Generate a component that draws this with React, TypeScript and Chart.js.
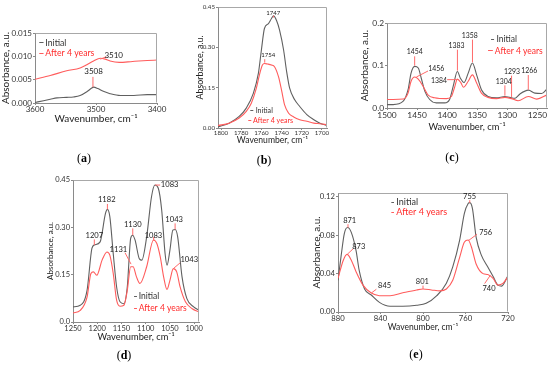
import React, { useEffect, useRef } from "react";
import { Chart, registerables } from "chart.js";

Chart.register(...registerables);

const W = 550;
const H = 365;
const FONT = "Lato, 'Open Sans', sans-serif";
const GRAY = "#606060";
const RED = "#ff5c5c";
const RED_TEXT = "#ff2b2b";
const LEADER = "#ff6a6a";
const AXIS = "#8a8a8a";
const FRAME = "#a8a8a8";
const X_TITLE = "Wavenumber, cm\u207B\u00B9";
const Y_TITLE = "Absorbance, a.u.";
const LEGEND_LABELS = ["Initial", "After 4 years"];

// ---------- Panel (a) ----------
const A_X_TICKS = [3400, 3500, 3600];
const A_Y_TICKS = [0, 0.005, 0.01, 0.015];
const A_Y_LABELS = ["0.000", "0.005", "0.010", "0.015"];
const A_INIT_WN = [3600, 3586, 3575, 3564, 3548, 3537, 3526, 3515, 3507, 3504, 3497, 3488, 3477, 3460, 3438, 3416, 3400];
const A_INIT_ABS = [0.0001, 0.0005, 0.0008, 0.0011, 0.0012, 0.0013, 0.0016, 0.0024, 0.0032, 0.0034, 0.0031, 0.0025, 0.002, 0.0016, 0.0016, 0.0018, 0.0018];
const A_AFTER_WN = [3600, 3575, 3548, 3526, 3515, 3504, 3493, 3485, 3477, 3462, 3440, 3416, 3400];
const A_AFTER_ABS = [0.0051, 0.0059, 0.0069, 0.0075, 0.0082, 0.009, 0.0096, 0.0094, 0.009, 0.0087, 0.0089, 0.0091, 0.0092];
const A_NOTES = [
  { text: "3508", tx: 3504, ty: 0.0068, line: [3505, 0.0034, 3505, 0.0056] },
  { text: "3510", tx: 3471, ty: 0.0101, line: [3493, 0.0094, 3483, 0.0099] },
];

// ---------- Panel (b) ----------
const B_X_TICKS = [1700, 1720, 1740, 1760, 1780, 1800];
const B_Y_TICKS = [0, 0.15, 0.3, 0.45];
const B_Y_LABELS = ["0.00", "0.15", "0.30", "0.45"];
const B_INIT_WN = [1803, 1792, 1782, 1775, 1768, 1763, 1760, 1757, 1753, 1750, 1748, 1745, 1742, 1738, 1735, 1732, 1727, 1722, 1715, 1708, 1702, 1695];
const B_INIT_ABS = [0.004, 0.018, 0.043, 0.074, 0.129, 0.203, 0.29, 0.37, 0.388, 0.407, 0.417, 0.4, 0.364, 0.29, 0.21, 0.148, 0.105, 0.08, 0.05, 0.031, 0.018, 0.009];
const B_AFTER_WN = [1803, 1792, 1782, 1775, 1770, 1765, 1762, 1759, 1757, 1754, 1750, 1747, 1743, 1740, 1737, 1733, 1728, 1722, 1715, 1708, 1702, 1695];
const B_AFTER_ABS = [0.009, 0.018, 0.037, 0.062, 0.092, 0.148, 0.197, 0.234, 0.24, 0.238, 0.234, 0.228, 0.19, 0.14, 0.086, 0.055, 0.041, 0.031, 0.025, 0.018, 0.016, 0.012];
const B_NOTES = [
  { text: "1747", tx: 1748.3, ty: 0.428, line: [1748, 0.411, 1748, 0.418] },
  { text: "1754", tx: 1753.3, ty: 0.272, line: [1756.7, 0.243, 1756.7, 0.256] },
];

// ---------- Panel (c) ----------
const C_X_TICKS = [1250, 1300, 1350, 1400, 1450, 1500];
const C_Y_TICKS = [0, 0.1, 0.2];
const C_Y_LABELS = ["0.0", "0.1", "0.2"];
const C_INIT_WN = [1500, 1490, 1473, 1465, 1460, 1454, 1448, 1443, 1437, 1429, 1418, 1404, 1396, 1390, 1383, 1378, 1372, 1365, 1358, 1351, 1343, 1332, 1318, 1304, 1296, 1287, 1279, 1265, 1254, 1243, 1234];
const C_INIT_ABS = [0.008, 0.008, 0.016, 0.043, 0.082, 0.098, 0.094, 0.07, 0.039, 0.02, 0.012, 0.012, 0.02, 0.051, 0.086, 0.07, 0.06, 0.082, 0.106, 0.078, 0.043, 0.027, 0.024, 0.027, 0.025, 0.023, 0.033, 0.042, 0.035, 0.034, 0.045];
const C_AFTER_WN = [1500, 1490, 1473, 1465, 1460, 1454, 1448, 1440, 1432, 1421, 1401, 1393, 1388, 1383, 1377, 1373, 1365, 1358, 1351, 1343, 1332, 1318, 1304, 1293, 1282, 1265, 1251, 1234];
const C_AFTER_ABS = [0.02, 0.02, 0.021, 0.035, 0.063, 0.073, 0.068, 0.051, 0.031, 0.024, 0.022, 0.027, 0.047, 0.068, 0.059, 0.049, 0.063, 0.078, 0.059, 0.035, 0.025, 0.022, 0.025, 0.022, 0.017, 0.027, 0.021, 0.031];
const C_NOTES = [
  { text: "1454", tx: 1454, ty: 0.1333, line: [1454, 0.0996, 1454, 0.1216] },
  { text: "1456", tx: 1418, ty: 0.0925, line: [1451.2, 0.0729, 1431.8, 0.0871] },
  { text: "1383", tx: 1384.6, ty: 0.1475, line: [1382.9, 0.0878, 1382.9, 0.1373] },
  { text: "1358", tx: 1362.3, ty: 0.171, line: [1357.9, 0.1075, 1357.9, 0.161] },
  { text: "1384", tx: 1413.4, ty: 0.0651, line: [1400, 0.0667, 1383.4, 0.0667] },
  { text: "1304", tx: 1306, ty: 0.0627, line: [1304, 0.0533, 1304, 0.029] },
  { text: "1293", tx: 1292, ty: 0.0863, line: [1292.9, 0.0761, 1292.9, 0.0259] },
  { text: "1266", tx: 1263.5, ty: 0.0878, line: [1265.1, 0.0776, 1265.1, 0.0431] },
];

// ---------- Panel (d) ----------
const D_X_TICKS = [1000, 1050, 1100, 1150, 1200, 1250];
const D_Y_TICKS = [0, 0.15, 0.3, 0.45];
const D_Y_LABELS = ["0.0", "0.15", "0.30", "0.45"];
const D_INIT_WN = [1250, 1235, 1221, 1211, 1206, 1194, 1183, 1179, 1174, 1167, 1160, 1153, 1145, 1138, 1131, 1127, 1122, 1113, 1108, 1098, 1088, 1081, 1074, 1067, 1060, 1056, 1050, 1044, 1039, 1034, 1025, 1015, 1001, 990];
const D_INIT_ABS = [0.048, 0.053, 0.1, 0.233, 0.244, 0.254, 0.344, 0.357, 0.334, 0.217, 0.111, 0.064, 0.058, 0.111, 0.265, 0.275, 0.26, 0.2, 0.196, 0.27, 0.397, 0.434, 0.424, 0.355, 0.217, 0.18, 0.228, 0.291, 0.293, 0.27, 0.143, 0.074, 0.048, 0.037];
const D_AFTER_WN = [1250, 1235, 1221, 1213, 1208, 1201, 1190, 1180, 1174, 1167, 1160, 1153, 1145, 1138, 1131, 1126, 1119, 1112, 1098, 1084, 1077, 1070, 1063, 1056, 1050, 1043, 1036, 1029, 1018, 1004, 990];
const D_AFTER_ABS = [0.029, 0.037, 0.079, 0.154, 0.159, 0.148, 0.196, 0.222, 0.212, 0.154, 0.069, 0.05, 0.053, 0.1, 0.175, 0.175, 0.143, 0.122, 0.175, 0.26, 0.249, 0.207, 0.143, 0.103, 0.132, 0.169, 0.159, 0.111, 0.064, 0.042, 0.032];
const D_NOTES = [
  { text: "1207", tx: 1206, ty: 0.2754, line: [1206, 0.2617, 1206, 0.2436] },
  { text: "1182", tx: 1180.4, ty: 0.3867, line: [1179, 0.374, 1179, 0.357] },
  { text: "1130", tx: 1126.7, ty: 0.3093, line: [1126.7, 0.2966, 1126.7, 0.2754] },
  { text: "1131", tx: 1156.3, ty: 0.2309, line: [1142.6, 0.2193, 1130.2, 0.1833] },
  { text: "1083", tx: 1050.6, ty: 0.4343, line: [1080.6, 0.434, 1070.2, 0.434] },
  { text: "1083", tx: 1084, ty: 0.2754, line: [1083.5, 0.2695, 1083.5, 0.2575] },
  { text: "1043", tx: 1041.3, ty: 0.3252, line: [1039.3, 0.3125, 1039.3, 0.2934] },
  { text: "1043", tx: 1010.1, ty: 0.198, line: [1028.9, 0.1875, 1042.7, 0.1695] },
];

// ---------- Panel (e) ----------
const E_X_TICKS = [720, 760, 800, 840, 880];
const E_Y_TICKS = [0, 0.04, 0.08, 0.12];
const E_Y_LABELS = ["0.00", "0.04", "0.08", "0.12"];
const E_INIT_WN = [880, 877, 874, 871, 867.5, 863, 860, 855, 849, 841, 831, 819, 806, 797, 787, 778, 772, 765.5, 761, 757.5, 756, 753.5, 750, 745, 739, 734, 729.5, 726, 720];
const E_INIT_ABS = [0.033, 0.059, 0.082, 0.088, 0.083, 0.064, 0.043, 0.024, 0.018, 0.01, 0.006, 0.006, 0.007, 0.009, 0.017, 0.03, 0.047, 0.075, 0.103, 0.113, 0.114, 0.108, 0.078, 0.059, 0.047, 0.037, 0.028, 0.027, 0.038];
const E_AFTER_WN = [880, 875, 871.5, 867.5, 863, 856.5, 849, 841, 831, 819, 806, 800, 792, 784, 778, 772, 765.5, 761, 757.5, 754.5, 750, 743.5, 739, 734, 729.5, 724.5, 720];
const E_AFTER_ABS = [0.035, 0.054, 0.06, 0.054, 0.042, 0.028, 0.02, 0.017, 0.017, 0.02, 0.023, 0.024, 0.023, 0.022, 0.024, 0.033, 0.057, 0.073, 0.075, 0.068, 0.05, 0.04, 0.039, 0.035, 0.028, 0.03, 0.037];
const E_NOTES = [
  { text: "871", tx: 869, ty: 0.0957, line: [870.6, 0.0915, 870.6, 0.088] },
  { text: "873", tx: 860.5, ty: 0.0685, line: [871.2, 0.0602, 865.9, 0.0657] },
  { text: "845", tx: 836.1, ty: 0.0271, line: [843.9, 0.0237, 848.6, 0.0198] },
  { text: "801", tx: 800.6, ty: 0.0313, line: [800, 0.0275, 800, 0.024] },
  { text: "755", tx: 756.1, ty: 0.12, line: [756, 0.1165, 756, 0.1137] },
  { text: "756", tx: 741, ty: 0.0824, line: [757.6, 0.0741, 749.2, 0.081] },
  { text: "740", tx: 737.9, ty: 0.0243, line: [742, 0.0296, 736.6, 0.0383] },
];

type Note = { text: string; tx: number; ty: number; line: number[] };
type LegendRow = { d1: number; d2: number; tx: number; y: number };
type Panel = {
  L: number; T: number; R: number; B: number; yw: number; xh: number;
  xMin: number; xMax: number; yMax: number;
  xTicks: number[]; yTicks: number[]; yLabels: string[];
  initWn: number[]; initAbs: number[]; afterWn: number[]; afterAbs: number[];
  notes: Note[]; legend: LegendRow[];
  tickSize: number; xTitleSize: number; yTitleSize: number; noteSize: number; legendSize: number;
  tickLen: number; xTickPad: number; xTitlePad: number; yTitlePad: number;
};

const PANELS: Panel[] = [
  {
    L: 35, T: 33, R: 157, B: 103, yw: 35, xh: 22, xMin: 3400, xMax: 3600, yMax: 0.015,
    xTicks: A_X_TICKS, yTicks: A_Y_TICKS, yLabels: A_Y_LABELS,
    initWn: A_INIT_WN, initAbs: A_INIT_ABS, afterWn: A_AFTER_WN, afterAbs: A_AFTER_ABS,
    notes: A_NOTES,
    legend: [
      { d1: 3593, d2: 3586, tx: 3583, y: 0.013 },
      { d1: 3593, d2: 3586, tx: 3583, y: 0.0107 },
    ],
    tickSize: 8, xTitleSize: 10, yTitleSize: 10, noteSize: 8, legendSize: 8.7,
    tickLen: 2, xTickPad: 0, xTitlePad: 0, yTitlePad: 0,
  },
  {
    L: 218, T: 7, R: 327, B: 128, yw: 24, xh: 17, xMin: 1695, xMax: 1803, yMax: 0.45,
    xTicks: B_X_TICKS, yTicks: B_Y_TICKS, yLabels: B_Y_LABELS,
    initWn: B_INIT_WN, initAbs: B_INIT_ABS, afterWn: B_AFTER_WN, afterAbs: B_AFTER_ABS,
    notes: B_NOTES,
    legend: [
      { d1: 1771, d2: 1768, tx: 1765.7, y: 0.0678 },
      { d1: 1773, d2: 1770, tx: 1768.3, y: 0.0284 },
    ],
    tickSize: 6.2, xTitleSize: 8.6, yTitleSize: 8.9, noteSize: 6, legendSize: 7.1,
    tickLen: 2, xTickPad: -1, xTitlePad: 0, yTitlePad: 0.5,
  },
  {
    L: 387, T: 23, R: 547, B: 108, yw: 28, xh: 25, xMin: 1234, xMax: 1500, yMax: 0.2,
    xTicks: C_X_TICKS, yTicks: C_Y_TICKS, yLabels: C_Y_LABELS,
    initWn: C_INIT_WN, initAbs: C_INIT_ABS, afterWn: C_AFTER_WN, afterAbs: C_AFTER_ABS,
    notes: C_NOTES,
    legend: [
      { d1: 1327, d2: 1322, tx: 1318, y: 0.1624 },
      { d1: 1332, d2: 1324, tx: 1320.7, y: 0.1357 },
    ],
    tickSize: 8.4, xTitleSize: 9.3, yTitleSize: 9.9, noteSize: 6.9, legendSize: 8.5,
    tickLen: 2, xTickPad: 0, xTitlePad: 0, yTitlePad: 0,
  },
  {
    L: 73, T: 180, R: 199, B: 322, yw: 27, xh: 21, xMin: 990, xMax: 1250, yMax: 0.45,
    xTicks: D_X_TICKS, yTicks: D_Y_TICKS, yLabels: D_Y_LABELS,
    initWn: D_INIT_WN, initAbs: D_INIT_ABS, afterWn: D_AFTER_WN, afterAbs: D_AFTER_ABS,
    notes: D_NOTES,
    legend: [
      { d1: 1124, d2: 1118, tx: 1114.3, y: 0.0816 },
      { d1: 1124, d2: 1118, tx: 1114.3, y: 0.0455 },
    ],
    tickSize: 7.5, xTitleSize: 9.3, yTitleSize: 8, noteSize: 7.6, legendSize: 8.5,
    tickLen: 2, xTickPad: 0, xTitlePad: 0, yTitlePad: 0,
  },
  {
    L: 338, T: 193, R: 508, B: 312, yw: 27, xh: 20, xMin: 720, xMax: 880, yMax: 0.124,
    xTicks: E_X_TICKS, yTicks: E_Y_TICKS, yLabels: E_Y_LABELS,
    initWn: E_INIT_WN, initAbs: E_INIT_ABS, afterWn: E_AFTER_WN, afterAbs: E_AFTER_ABS,
    notes: E_NOTES,
    legend: [
      { d1: 829.8, d2: 827.3, tx: 825.1, y: 0.1148 },
      { d1: 829.8, d2: 827.3, tx: 825.1, y: 0.1043 },
    ],
    tickSize: 7.7, xTitleSize: 8.5, yTitleSize: 10, noteSize: 7.5, legendSize: 9,
    tickLen: 2, xTickPad: 0, xTitlePad: 0, yTitlePad: 0,
  },
];

const PANEL_LABELS = [
  { letter: "a", x: 84, y: 158 },
  { letter: "b", x: 264, y: 160 },
  { letter: "c", x: 452, y: 157 },
  { letter: "d", x: 124, y: 355 },
  { letter: "e", x: 416, y: 354 },
];

function zip(xs: number[], ys: number[]) {
  return xs.map((x, i) => ({ x, y: ys[i] }));
}

function buildChart(canvas: HTMLCanvasElement, p: Panel, idx: number) {
  const overlay = {
    id: "overlay" + idx,
    afterDatasetsDraw(chart: any) {
      const { ctx, chartArea: a, scales } = chart;
      const X = (v: number) => scales.x.getPixelForValue(v);
      const Y = (v: number) => scales.y.getPixelForValue(v);
      ctx.save();
      // frame
      ctx.strokeStyle = FRAME;
      ctx.lineWidth = 1;
      const l = Math.round(a.left) + 0.5;
      const t = Math.round(a.top) + 0.5;
      const r = Math.round(a.right) - 0.5;
      const b = Math.round(a.bottom) - 0.5;
      ctx.beginPath();
      ctx.moveTo(l, t);
      ctx.lineTo(r, t);
      ctx.lineTo(r, b);
      ctx.stroke();
      // leader lines
      ctx.strokeStyle = LEADER;
      for (const n of p.notes) {
        ctx.beginPath();
        ctx.moveTo(X(n.line[0]), Y(n.line[1]));
        ctx.lineTo(X(n.line[2]), Y(n.line[3]));
        ctx.stroke();
      }
      // notes
      ctx.fillStyle = "#222";
      ctx.font = `${p.noteSize}px ${FONT}`;
      ctx.textAlign = "center";
      ctx.textBaseline = "middle";
      for (const n of p.notes) ctx.fillText(n.text, X(n.tx), Y(n.ty));
      // legend
      ctx.textAlign = "left";
      ctx.font = `${p.legendSize}px ${FONT}`;
      p.legend.forEach((row, i) => {
        ctx.strokeStyle = i === 0 ? GRAY : RED;
        ctx.beginPath();
        ctx.moveTo(X(row.d1), Math.round(Y(row.y)) + 0.5);
        ctx.lineTo(X(row.d2), Math.round(Y(row.y)) + 0.5);
        ctx.stroke();
        ctx.fillStyle = i === 0 ? "#333" : RED_TEXT;
        ctx.fillText(LEGEND_LABELS[i], X(row.tx), Y(row.y) + 0.5);
      });
      ctx.restore();
    },
  };

  return new Chart(canvas, {
    type: "line",
    data: {
      datasets: [
        {
          label: LEGEND_LABELS[1],
          data: zip(p.afterWn, p.afterAbs),
          borderColor: RED,
          borderWidth: 1.1,
          pointRadius: 0,
          fill: false,
          cubicInterpolationMode: "monotone",
        },
        {
          label: LEGEND_LABELS[0],
          data: zip(p.initWn, p.initAbs),
          borderColor: GRAY,
          borderWidth: 1.1,
          pointRadius: 0,
          fill: false,
          cubicInterpolationMode: "monotone",
        },
      ],
    },
    options: {
      animation: false,
      responsive: false,
      maintainAspectRatio: false,
      devicePixelRatio: 1,
      events: [],
      layout: {
        padding: { left: p.L - p.yw, top: p.T, right: W - p.R, bottom: H - p.B - p.xh },
      },
      plugins: { legend: { display: false }, tooltip: { enabled: false }, title: { display: false } },
      scales: {
        x: {
          type: "linear",
          reverse: true,
          min: p.xMin,
          max: p.xMax,
          afterBuildTicks: (s: any) => {
            s.ticks = p.xTicks.map((v) => ({ value: v }));
          },
          afterFit: (s: any) => {
            s.height = p.xh;
            s.paddingLeft = 0;
            s.paddingRight = 0;
          },
          ticks: {
            autoSkip: false,
            maxRotation: 0,
            minRotation: 0,
            padding: p.xTickPad,
            color: "#333",
            font: { family: FONT, size: p.tickSize },
            callback: (v: any) => String(v),
          },
          grid: { display: true, drawOnChartArea: false, drawTicks: true, tickLength: p.tickLen, color: AXIS },
          border: { display: true, color: AXIS },
          title: {
            display: true,
            text: X_TITLE,
            color: "#222",
            font: { family: FONT, size: p.xTitleSize },
            padding: { top: 0, bottom: p.xTitlePad },
          },
        },
        y: {
          type: "linear",
          min: 0,
          max: p.yMax,
          afterBuildTicks: (s: any) => {
            s.ticks = p.yTicks.map((v) => ({ value: v }));
          },
          afterFit: (s: any) => {
            s.width = p.yw;
            s.paddingTop = 0;
            s.paddingBottom = 0;
          },
          ticks: {
            autoSkip: false,
            padding: 1,
            color: "#333",
            font: { family: FONT, size: p.tickSize },
            callback: (_v: any, i: number) => p.yLabels[i],
          },
          grid: { display: true, drawOnChartArea: false, drawTicks: true, tickLength: p.tickLen, color: AXIS },
          border: { display: true, color: AXIS },
          title: {
            display: true,
            text: Y_TITLE,
            color: "#222",
            font: { family: FONT, size: p.yTitleSize },
            padding: { top: p.yTitlePad, bottom: 0 },
          },
        },
      },
    },
    plugins: [overlay],
  } as any);
}

function PanelCanvas({ p, idx }: { p: Panel; idx: number }) {
  const ref = useRef<HTMLCanvasElement | null>(null);
  useEffect(() => {
    if (!ref.current) return;
    const chart = buildChart(ref.current, p, idx);
    return () => chart.destroy();
  }, [p, idx]);
  return (
    <canvas
      ref={ref}
      width={W}
      height={H}
      style={{ position: "absolute", left: 0, top: 0, width: W, height: H }}
    />
  );
}

export default function App() {
  return (
    <div
      style={{
        position: "fixed",
        left: 0,
        top: 0,
        width: W,
        height: H,
        background: "#fff",
        overflow: "hidden",
      }}
    >
      {PANELS.map((p, i) => (
        <PanelCanvas key={i} p={p} idx={i} />
      ))}
      {PANEL_LABELS.map((l) => (
        <div
          key={l.letter}
          style={{
            position: "absolute",
            left: l.x,
            top: l.y,
            transform: "translate(-50%, -50%)",
            fontFamily: "'Liberation Serif', 'DejaVu Serif', serif",
            fontSize: 12,
            color: "#000",
            whiteSpace: "nowrap",
          }}
        >
          (<b>{l.letter}</b>)
        </div>
      ))}
    </div>
  );
}
